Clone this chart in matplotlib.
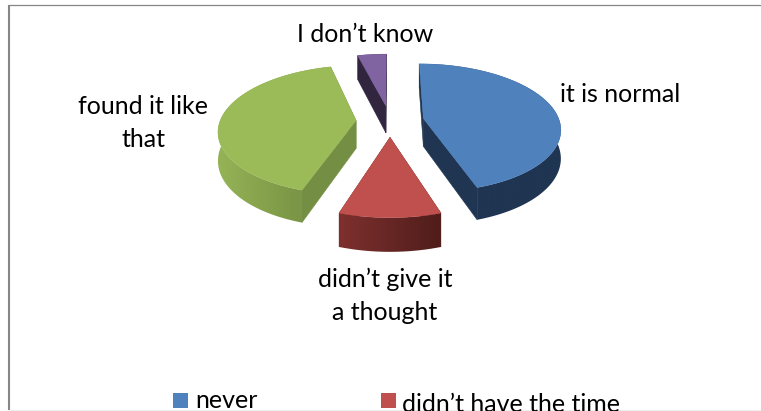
import numpy as np
import matplotlib
matplotlib.use("Agg")
import matplotlib.pyplot as plt
from matplotlib.colors import LinearSegmentedColormap
from matplotlib.patches import Polygon, Rectangle

plt.rcParams['font.family'] = ['Lato', 'DejaVu Sans']

# shares, clockwise from the top
shares = [45, 10, 41, 4]

legend_labels = ["never", "didn\u2019t have the time"]

top_colors = ["#4F81BD", "#C0504D", "#9BBB59", "#8064A2"]
face_colors = ["#1F3552", "#6E2B29", "#748F44", "#31253F"]
arc_left = ["#1F3552", "#7E302E", "#95B356", "#31253F"]
arc_right = ["#1F3552", "#4F1D1B", "#6F8A3F", "#31253F"]

CX, CY = 390, 121
RX, RY = 136, 63.3
PERSP = 0.145
EXPLODE = 0.25
DEPTH = 28
FRAME = "#868686"


def project(u, v, drop=0.0):
    s = 1 / (1 - PERSP * v)
    return CX + RX * u * s, CY + (RY * v + drop) * s


fig = plt.figure(figsize=(7.61, 4.11), dpi=100)
ax = fig.add_axes([0, 0, 1, 1])
ax.axis("off")

# chart frame, open on the right
ax.plot([9, 9], [5, 410], color=FRAME, lw=1.5, solid_capstyle="butt")
ax.plot([8, 761], [5.5, 5.5], color=FRAME, lw=0.9, solid_capstyle="butt")
ax.plot([8, 761], [410.5, 410.5], color=FRAME, lw=0.9, solid_capstyle="butt")

edges = np.cumsum([0] + shares) * 3.6
for i in range(len(shares)):
    a0, a1 = edges[i], edges[i + 1]
    mid = np.radians((a0 + a1) / 2)
    ou, ov = EXPLODE * np.sin(mid), -EXPLODE * np.cos(mid)
    th = np.radians(np.linspace(a0, a1, 80))
    u = ou + np.sin(th)
    v = ov - np.cos(th)

    # radial faces
    for eu, ev in [(u[0], v[0]), (u[-1], v[-1])]:
        p = [project(ou, ov), project(eu, ev), project(eu, ev, DEPTH), project(ou, ov, DEPTH)]
        ax.add_patch(Polygon(p, fc=face_colors[i], ec=face_colors[i], lw=0.4, zorder=2))

    # outer wall, shaded along x
    x1, y1 = project(u, v)
    x2, y2 = project(u, v, DEPTH)
    wall = np.r_[np.c_[x1, y1], np.c_[x2, y2][::-1]]
    cmap = LinearSegmentedColormap.from_list("wall", [arc_left[i], arc_right[i]])
    im = ax.imshow(np.linspace(0, 1, 256).reshape(1, -1), cmap=cmap, aspect="auto", zorder=3,
                   extent=[wall[:, 0].min(), wall[:, 0].max(), wall[:, 1].max(), wall[:, 1].min()])
    clip = Polygon(wall, transform=ax.transData, fc="none", ec="none")
    ax.add_patch(clip)
    im.set_clip_path(clip)

    # top face
    tx, ty = project(np.r_[ou, u], np.r_[ov, v])
    ax.add_patch(Polygon(np.c_[tx, ty], fc=top_colors[i], ec=top_colors[i], lw=0.3, zorder=4))

ax.set_xlim(0, 761)
ax.set_ylim(411, 0)

# data labels
ax.text(620, 95, "it is normal", ha="center", va="center", fontsize=18)
ax.text(385, 296, "didn\u2019t give it\na thought", ha="center", va="center", fontsize=18, linespacing=1.52)
ax.text(143, 123, "found it like\nthat", ha="center", va="center", fontsize=18, linespacing=1.52)
ax.text(365, 35, "I don\u2019t know", ha="center", va="center", fontsize=18)

# legend, cut off by the frame as in the original
clip_box = Rectangle((0, 0), 761, 409.5, transform=ax.transData)
ax.add_patch(Rectangle((173, 393), 15, 15, fc=top_colors[0], ec="none"))
ax.add_patch(Rectangle((381, 393), 15, 15, fc=top_colors[1], ec="none"))
t1 = ax.text(195, 408, legend_labels[0], ha="left", va="baseline", fontsize=18)
t2 = ax.text(402, 411.5, legend_labels[1], ha="left", va="baseline", fontsize=18)
t1.set_clip_path(clip_box)
t2.set_clip_path(clip_box)

fig.savefig("out.png", dpi=100)
